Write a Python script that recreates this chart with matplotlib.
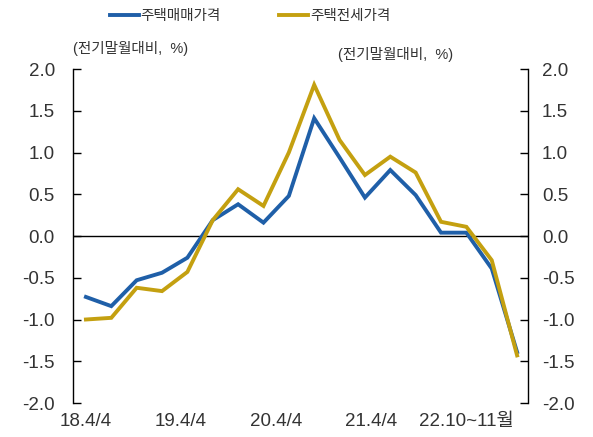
import matplotlib
matplotlib.use("Agg")
import matplotlib.pyplot as plt
from matplotlib.ticker import FormatStrFormatter

plt.rcParams['font.family'] = ['Liberation Sans', 'Noto Sans CJK KR', 'DejaVu Sans']
plt.rcParams['axes.unicode_minus'] = True

# data (quarter-on-quarter change, %)
sale = [-0.73, -0.84, -0.53, -0.44, -0.26, 0.19, 0.38, 0.16, 0.48, 1.41,
        0.94, 0.46, 0.79, 0.49, 0.04, 0.04, -0.39, -1.39]
jeonse = [-1.00, -0.98, -0.62, -0.66, -0.43, 0.19, 0.56, 0.36, 1.00, 1.81,
          1.15, 0.73, 0.95, 0.76, 0.17, 0.11, -0.29, -1.43]
x_labels = ['18.4/4', '19.4/4', '20.4/4', '21.4/4', '22.10~11월']
x_label_pos = [0, 3.75, 7.5, 11.25, 15]
y_ticks = [-2.0, -1.5, -1.0, -0.5, 0.0, 0.5, 1.0, 1.5, 2.0]
series_names = ['주택매매가격', '주택전세가격']
unit_label = '(전기말월대비,  %)'

blue = '#1F5FA8'
gold = '#C4A010'
txt = '#333333'

fig = plt.figure(figsize=(5.93, 4.37), dpi=100)
ax = fig.add_axes([0.1231, 0.0778, 0.7673, 0.7643])
xs = list(range(len(sale)))
l1, = ax.plot(xs, sale, color=blue, lw=2.8, solid_joinstyle='miter')
l2, = ax.plot(xs, jeonse, color=gold, lw=2.8, solid_joinstyle='miter')
ax.axhline(0, color='black', lw=1.0, zorder=1)

ax.set_xlim(-0.51, 17.43)
ax.set_ylim(-2.0, 2.0)
ax.set_yticks(y_ticks)
ax.yaxis.set_major_formatter(FormatStrFormatter('%.1f'))
ax.set_xticks(x_label_pos)
ax.set_xticklabels(x_labels)
ax.tick_params(axis='x', length=0, pad=7, labelsize=13.5, colors=txt)
ax.tick_params(axis='y', direction='in', length=6, width=1, pad=13,
               labelsize=13.5, labelcolor=txt)
for s in ['top', 'bottom']:
    ax.spines[s].set_visible(False)
ax.spines['left'].set_linewidth(1)
ax.spines['right'].set_visible(False)

ax2 = ax.twinx()
ax2.set_ylim(-2.0, 2.0)
ax2.set_yticks(y_ticks)
ax2.yaxis.set_major_formatter(FormatStrFormatter('%.1f'))
ax2.tick_params(axis='y', direction='in', length=6, width=1, pad=10,
                labelsize=13.5, labelcolor=txt)
for s in ['top', 'bottom', 'left']:
    ax2.spines[s].set_visible(False)
ax2.spines['right'].set_linewidth(1)

fig.text(73 / 593, 1 - 48 / 437, unit_label, fontsize=10.5, va='center', ha='left', color=txt)
fig.text(338 / 593, 1 - 55 / 437, unit_label, fontsize=10.5, va='center', ha='left', color=txt)

fig.legend([l1, l2], series_names, loc='center', bbox_to_anchor=(250 / 593, 1 - 16 / 437),
           ncol=2, frameon=False, fontsize=10.5, handlelength=2.0, handletextpad=0.1,
           columnspacing=4.0, labelcolor=txt)

fig.savefig('out.png', dpi=100)
